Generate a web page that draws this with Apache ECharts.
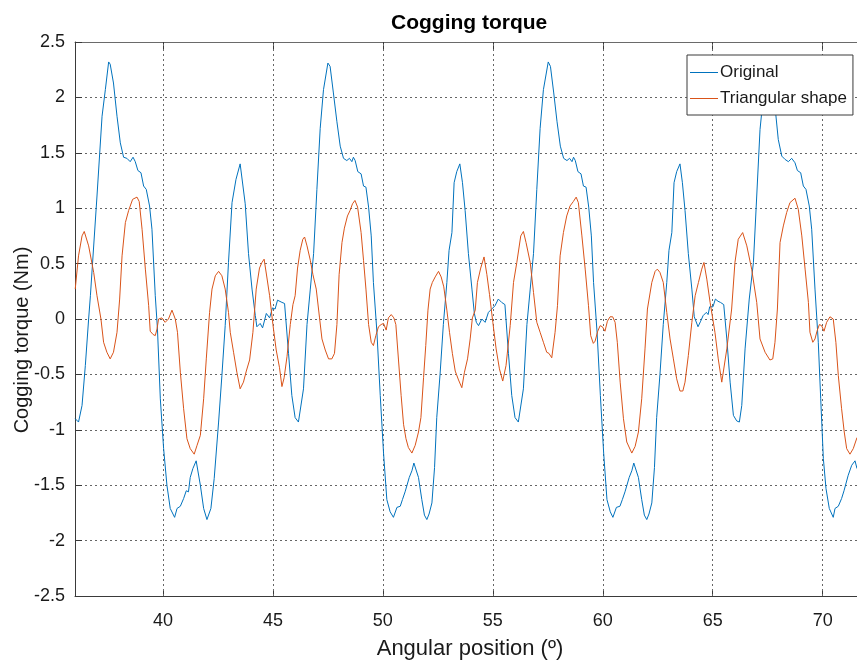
<!DOCTYPE html>
<html>
<head>
<meta charset="utf-8">
<title>Cogging torque</title>
<script src="https://cdn.jsdelivr.net/npm/echarts@6/dist/echarts.min.js"></script>
<style>
  html, body { margin: 0; padding: 0; background: #fff; }
  #chart { width: 857px; height: 662px; }
</style>
</head>
<body>
<div id="chart"></div>
<script>
// Angular position (deg) / cogging torque (Nm) samples
const originalPoints = [
  [36.01,-0.90],[36.16,-0.93],[36.32,-0.78],[36.47,-0.42],[36.62,0.00],[36.70,0.21],[37.00,1.11],[37.23,1.83],
  [37.38,2.07],[37.53,2.32],[37.60,2.30],[37.75,2.13],[37.91,1.83],[38.06,1.59],[38.21,1.46],[38.36,1.45],
  [38.51,1.42],[38.64,1.46],[38.74,1.42],[38.86,1.34],[39.00,1.32],[39.12,1.20],[39.24,1.17],[39.39,1.02],
  [39.50,0.81],[39.65,0.21],[39.75,-0.09],[39.88,-0.72],[40.03,-1.17],[40.18,-1.50],[40.33,-1.71],[40.53,-1.79],
  [40.64,-1.71],[40.79,-1.69],[40.94,-1.62],[41.06,-1.55],[41.16,-1.56],[41.24,-1.43],[41.36,-1.35],[41.51,-1.28],
  [41.70,-1.50],[41.85,-1.71],[42.00,-1.81],[42.18,-1.71],[42.33,-1.44],[42.53,-0.93],[42.68,-0.51],[42.83,-0.06],
  [42.98,0.51],[43.14,1.05],[43.32,1.26],[43.51,1.40],[43.74,1.04],[43.89,0.59],[44.05,0.27],[44.20,0.03],
  [44.27,-0.07],[44.42,-0.04],[44.53,-0.08],[44.70,0.05],[44.85,0.01],[44.98,0.10],[45.10,0.09],[45.21,0.17],
  [45.41,0.15],[45.53,0.14],[45.71,-0.31],[45.86,-0.69],[46.01,-0.89],[46.16,-0.93],[46.24,-0.92],[46.39,-0.63],
  [46.55,-0.05],[46.70,0.27],[46.85,0.59],[47.00,1.17],[47.15,1.72],[47.30,2.07],[47.50,2.31],[47.60,2.28],
  [47.75,2.04],[47.91,1.78],[48.06,1.56],[48.21,1.45],[48.36,1.43],[48.48,1.45],[48.59,1.42],[48.66,1.46],
  [48.74,1.43],[48.86,1.33],[49.01,1.31],[49.12,1.20],[49.23,1.19],[49.35,1.01],[49.47,0.75],[49.57,0.33],
  [49.73,-0.12],[49.88,-0.69],[50.03,-1.21],[50.18,-1.63],[50.33,-1.74],[50.48,-1.79],[50.64,-1.70],[50.79,-1.69],
  [50.89,-1.63],[51.01,-1.56],[51.10,-1.56],[51.20,-1.43],[51.32,-1.37],[51.41,-1.30],[51.50,-1.29],[51.62,-1.43],
  [51.77,-1.63],[51.89,-1.77],[52.00,-1.81],[52.10,-1.76],[52.23,-1.66],[52.35,-1.34],[52.45,-0.89],[52.60,-0.50],
  [52.75,-0.05],[52.91,0.33],[53.01,0.62],[53.14,0.78],[53.24,1.23],[53.36,1.33],[53.50,1.40],[53.62,1.23],
  [53.74,0.98],[53.89,0.59],[54.05,0.27],[54.16,0.05],[54.25,-0.03],[54.35,-0.06],[54.50,0.00],[54.65,-0.03],
  [54.80,0.06],[54.95,0.09],[55.10,0.12],[55.25,0.18],[55.40,0.15],[55.55,0.13],[55.71,-0.31],[55.86,-0.69],
  [56.01,-0.89],[56.16,-0.93],[56.24,-0.92],[56.39,-0.63],[56.55,-0.05],[56.70,0.27],[56.85,0.59],[57.00,1.17],
  [57.15,1.72],[57.30,2.07],[57.52,2.32],[57.62,2.28],[57.77,2.04],[57.92,1.78],[58.07,1.56],[58.22,1.45],
  [58.37,1.43],[58.49,1.45],[58.60,1.42],[58.67,1.46],[58.75,1.43],[58.87,1.33],[59.01,1.31],[59.12,1.20],
  [59.24,1.19],[59.36,1.01],[59.48,0.75],[59.58,0.33],[59.74,-0.12],[59.89,-0.69],[60.04,-1.21],[60.19,-1.63],
  [60.34,-1.74],[60.46,-1.79],[60.62,-1.70],[60.78,-1.69],[60.89,-1.63],[61.01,-1.56],[61.10,-1.56],[61.20,-1.43],
  [61.32,-1.37],[61.41,-1.30],[61.50,-1.29],[61.62,-1.43],[61.77,-1.63],[61.89,-1.77],[62.00,-1.81],[62.10,-1.76],
  [62.23,-1.66],[62.35,-1.34],[62.45,-0.89],[62.60,-0.50],[62.75,-0.05],[62.91,0.33],[63.01,0.62],[63.14,0.78],
  [63.24,1.23],[63.36,1.33],[63.51,1.40],[63.62,1.23],[63.74,0.98],[63.89,0.59],[64.05,0.27],[64.16,0.02],
  [64.33,-0.07],[64.45,-0.02],[64.56,0.03],[64.64,0.02],[64.71,0.06],[64.79,0.04],[64.86,0.11],[65.01,0.11],
  [65.12,0.18],[65.24,0.16],[65.35,0.15],[65.50,0.13],[65.64,-0.18],[65.79,-0.57],[65.94,-0.87],[66.09,-0.92],
  [66.21,-0.93],[66.32,-0.78],[66.47,-0.27],[66.66,0.18],[66.85,0.51],[67.00,1.11],[67.15,1.71],[67.27,1.95],
  [67.50,2.31],[67.60,2.28],[67.83,1.92],[67.98,1.62],[68.14,1.47],[68.29,1.44],[68.44,1.42],[68.59,1.45],
  [68.74,1.41],[68.85,1.34],[69.00,1.32],[69.12,1.20],[69.24,1.17],[69.39,1.02],[69.50,0.81],[69.65,0.27],
  [69.80,-0.21],[69.91,-0.72],[70.03,-1.26],[70.15,-1.53],[70.30,-1.71],[70.48,-1.79],[70.56,-1.71],[70.71,-1.69],
  [70.86,-1.62],[70.97,-1.55],[71.06,-1.56],[71.16,-1.41],[71.32,-1.32],[71.47,-1.28],[71.56,-1.35]
];

const triangularPoints = [
  [36.01,0.27],[36.16,0.57],[36.32,0.75],[36.42,0.79],[36.62,0.66],[36.85,0.42],[37.00,0.21],[37.18,0.00],
  [37.30,-0.21],[37.45,-0.30],[37.60,-0.36],[37.75,-0.30],[37.91,-0.12],[38.03,0.18],[38.14,0.57],[38.29,0.87],
  [38.44,0.98],[38.62,1.08],[38.70,1.07],[38.82,1.10],[38.92,1.06],[39.05,0.81],[39.20,0.45],[39.35,0.12],
  [39.42,-0.11],[39.55,-0.14],[39.65,-0.15],[39.73,-0.09],[39.80,0.00],[39.95,0.01],[40.10,-0.03],[40.25,0.00],
  [40.41,0.08],[40.56,0.00],[40.66,-0.12],[40.79,-0.48],[40.94,-0.81],[41.09,-1.08],[41.24,-1.17],[41.42,-1.22],
  [41.55,-1.14],[41.70,-1.05],[41.85,-0.72],[41.97,-0.36],[42.12,0.06],[42.23,0.27],[42.38,0.39],[42.53,0.43],
  [42.68,0.39],[42.83,0.27],[42.98,0.06],[43.06,-0.12],[43.21,-0.30],[43.36,-0.48],[43.51,-0.63],[43.66,-0.57],
  [43.79,-0.47],[43.94,-0.37],[44.09,-0.12],[44.24,0.27],[44.39,0.46],[44.50,0.51],[44.60,0.54],[44.73,0.37],
  [44.85,0.21],[45.00,-0.05],[45.15,-0.28],[45.30,-0.44],[45.41,-0.61],[45.51,-0.53],[45.64,-0.34],[45.79,-0.05],
  [45.91,0.13],[46.01,0.21],[46.12,0.46],[46.24,0.62],[46.36,0.72],[46.44,0.74],[46.55,0.66],[46.70,0.53],
  [46.82,0.40],[46.97,0.27],[47.12,0.01],[47.23,-0.18],[47.38,-0.28],[47.53,-0.36],[47.68,-0.36],[47.80,-0.31],
  [47.91,-0.05],[48.01,0.40],[48.14,0.69],[48.25,0.82],[48.39,0.93],[48.51,0.98],[48.62,1.04],[48.73,1.07],
  [48.85,1.01],[49.01,0.78],[49.12,0.53],[49.23,0.27],[49.35,-0.05],[49.47,-0.21],[49.57,-0.24],[49.68,-0.15],
  [49.80,-0.07],[49.92,-0.05],[50.03,-0.04],[50.15,-0.10],[50.25,0.01],[50.38,0.04],[50.50,0.01],[50.59,-0.05],
  [50.71,-0.37],[50.83,-0.69],[50.94,-0.95],[51.05,-1.08],[51.16,-1.16],[51.32,-1.21],[51.47,-1.14],[51.62,-1.02],
  [51.73,-0.89],[51.85,-0.53],[51.95,-0.24],[52.05,0.08],[52.15,0.27],[52.25,0.33],[52.38,0.38],[52.53,0.43],
  [52.65,0.38],[52.77,0.29],[52.91,0.08],[53.03,-0.12],[53.16,-0.31],[53.29,-0.47],[53.44,-0.55],[53.59,-0.62],
  [53.71,-0.48],[53.85,-0.36],[53.97,-0.18],[54.07,0.01],[54.20,0.08],[54.30,0.33],[54.45,0.46],[54.60,0.56],
  [54.73,0.40],[54.85,0.22],[55.00,-0.03],[55.15,-0.27],[55.30,-0.45],[55.45,-0.56],[55.60,-0.42],[55.79,-0.06],
  [55.94,0.33],[56.09,0.51],[56.27,0.75],[56.39,0.79],[56.51,0.69],[56.70,0.51],[56.85,0.24],[57.00,-0.03],
  [57.15,-0.12],[57.30,-0.21],[57.45,-0.30],[57.55,-0.31],[57.68,-0.35],[57.83,-0.12],[57.94,0.12],[58.06,0.57],
  [58.21,0.78],[58.36,0.93],[58.51,1.02],[58.66,1.06],[58.79,1.10],[58.89,1.05],[59.05,0.75],[59.20,0.45],
  [59.35,0.12],[59.45,-0.15],[59.57,-0.22],[59.65,-0.20],[59.77,-0.11],[59.88,-0.06],[59.98,-0.07],[60.10,-0.11],
  [60.21,-0.02],[60.33,0.02],[60.45,0.02],[60.56,-0.03],[60.66,-0.21],[60.79,-0.57],[60.94,-0.90],[61.09,-1.11],
  [61.32,-1.21],[61.47,-1.15],[61.62,-1.02],[61.77,-0.72],[61.92,-0.27],[62.03,0.09],[62.23,0.33],[62.38,0.43],
  [62.48,0.45],[62.60,0.42],[62.75,0.33],[62.91,0.06],[63.06,-0.18],[63.21,-0.36],[63.36,-0.54],[63.51,-0.65],
  [63.64,-0.65],[63.74,-0.57],[63.89,-0.33],[64.05,-0.03],[64.20,0.21],[64.35,0.33],[64.50,0.45],[64.60,0.51],
  [64.73,0.36],[64.88,0.15],[65.10,-0.12],[65.25,-0.36],[65.41,-0.57],[65.64,-0.27],[65.86,0.09],[66.01,0.51],
  [66.16,0.72],[66.36,0.78],[66.55,0.66],[66.77,0.45],[67.00,0.15],[67.15,-0.18],[67.38,-0.30],[67.60,-0.37],
  [67.73,-0.36],[67.83,-0.21],[67.94,0.09],[68.06,0.69],[68.21,0.84],[68.36,0.96],[68.51,1.05],[68.74,1.09],
  [68.89,0.99],[69.05,0.75],[69.20,0.45],[69.35,0.15],[69.42,-0.12],[69.55,-0.21],[69.65,-0.18],[69.74,-0.11],
  [69.85,-0.05],[69.95,-0.06],[70.06,-0.11],[70.18,-0.03],[70.33,0.02],[70.48,0.00],[70.60,-0.21],[70.71,-0.51],
  [70.86,-0.81],[70.98,-1.02],[71.09,-1.17],[71.24,-1.22],[71.39,-1.17],[71.56,-1.07]
];

const seriesNames = ['Original', 'Triangular shape'];
const angleTicks = [40, 45, 50, 55, 60, 65, 70];
const angleRange = [36, 71.56];
const torqueRange = [-2.5, 2.5];

const FONT = '"Liberation Sans", Arial, Helvetica, sans-serif';
const AXIS_COLOR = '#3a3a3a';
const TEXT_COLOR = '#1a1a1a';
const GRID_STYLE = { color: '#666', width: 1, type: [2, 3] };

const chart = echarts.init(document.getElementById('chart'), null, { renderer: 'canvas' });

chart.setOption({
  animation: false,
  backgroundColor: '#fff',
  title: {
    text: 'Cogging torque',
    left: 391,
    top: 13,
    padding: 0,
    textStyle: { fontFamily: FONT, fontSize: 21, fontWeight: 'bold', color: '#000' }
  },
  legend: {
    data: seriesNames.map(name => ({ name: name, icon: 'rect' })),
    orient: 'vertical',
    left: 687,
    top: 55,
    padding: [9, 6, 8, 3],
    itemGap: 9,
    itemWidth: 28,
    itemHeight: 1,
    backgroundColor: '#fff',
    borderColor: '#3a3a3a',
    borderWidth: 1,
    borderRadius: 0,
    textStyle: { fontFamily: FONT, fontSize: 17, color: TEXT_COLOR, lineHeight: 16, padding: [0, 0, 0, -3] }
  },
  grid: {
    left: 75,
    right: 0,
    top: 42,
    bottom: 66,
    containLabel: false,
    outerBoundsMode: 'none'
  },
  xAxis: [
    {
      type: 'value',
      min: angleRange[0],
      max: angleRange[1],
      position: 'bottom',
      name: 'Angular position (º)',
      nameLocation: 'middle',
      nameGap: 42,
      nameTextStyle: { fontFamily: FONT, fontSize: 22, color: TEXT_COLOR, padding: [0, 0, 0, 8] },
      axisLine: { show: true, onZero: false, lineStyle: { color: AXIS_COLOR, width: 1 } },
      axisTick: { show: true, inside: true, length: 7, customValues: angleTicks, lineStyle: { color: AXIS_COLOR } },
      axisLabel: { show: true, customValues: angleTicks, margin: 16, fontFamily: FONT, fontSize: 18, color: TEXT_COLOR },
      splitLine: { show: false }
    },
    {
      type: 'value',
      min: angleRange[0],
      max: angleRange[1],
      position: 'top',
      axisLine: { show: true, onZero: false, lineStyle: { color: '#6a6a6a', width: 1 } },
      axisTick: { show: true, inside: true, length: 7, customValues: angleTicks, lineStyle: { color: AXIS_COLOR } },
      axisLabel: { show: false },
      splitLine: { show: false }
    }
  ],
  yAxis: {
    type: 'value',
    min: torqueRange[0],
    max: torqueRange[1],
    interval: 0.5,
    name: 'Cogging torque (Nm)',
    nameLocation: 'middle',
    nameGap: 43,
    nameMoveOverlap: false,
    nameRotate: 90,
    nameTextStyle: { fontFamily: FONT, fontSize: 20, color: TEXT_COLOR, padding: [0, 42, 0, 0] },
    axisLine: { show: true, onZero: false, lineStyle: { color: AXIS_COLOR, width: 1 } },
    axisTick: { show: true, inside: true, length: 7, lineStyle: { color: AXIS_COLOR } },
    axisLabel: { margin: 10, fontFamily: FONT, fontSize: 18, color: TEXT_COLOR },
    splitLine: { show: true, lineStyle: GRID_STYLE }
  },
  series: [
    {
      name: seriesNames[0],
      type: 'line',
      xAxisIndex: 0,
      data: originalPoints,
      showSymbol: false,
      symbol: 'none',
      clip: true,
      color: '#0072BD',
      lineStyle: { color: '#0072BD', width: 1 },
      z: 3,
      markLine: {
        silent: true,
        symbol: 'none',
        z: 1,
        label: { show: false },
        lineStyle: GRID_STYLE,
        data: angleTicks.map(v => ({ xAxis: v }))
      }
    },
    {
      name: seriesNames[1],
      type: 'line',
      xAxisIndex: 0,
      data: triangularPoints,
      showSymbol: false,
      symbol: 'none',
      clip: true,
      color: '#D95319',
      lineStyle: { color: '#D95319', width: 1 },
      z: 4
    }
  ]
});
</script>
</body>
</html>
